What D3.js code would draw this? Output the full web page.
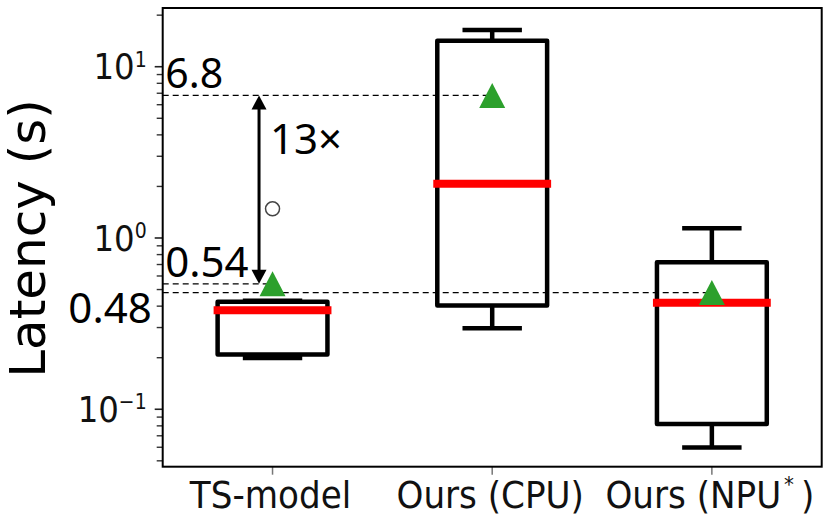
<!DOCTYPE html>
<html>
<head>
<meta charset="utf-8">
<script src="https://cdn.jsdelivr.net/npm/d3@7"></script>
<style>
  body { margin: 0; background: #fff; }
</style>
</head>
<body>
<div id="chartContainer"></div>
<script>
// box stats (seconds)
const categories = ["TS-model", "Ours (CPU)", "Ours (NPU*)"];
const whiskerLow = [0.199, 0.297, 0.0599];
const q1 = [0.209, 0.404, 0.0821];
const median = [0.379, 2.07, 0.419];
const q3 = [0.425, 14.2, 0.722];
const whiskerHigh = [0.43, 16.4, 1.14];
const means = [0.54, 6.8, 0.48];
const outliers = [[1.48], [], []];
const yTickValues = [0.1, 1, 10];
const yTickExponents = ["\u22121", "0", "1"];

// annotation values
const refValues = [6.8, 0.54, 0.48];
const refLabels = ["6.8", "0.54", "0.48"];
const refEndCategory = [1, 0, 2];
const speedupLabel = "13\u00d7";

const W = 831, H = 517;
const margin = { top: 8, right: 9.3, bottom: 50.3, left: 162.7 };
const plotW = W - margin.left - margin.right;
const plotH = H - margin.top - margin.bottom;

const svg = d3.select("#chartContainer").append("svg")
  .attr("width", W)
  .attr("height", H);

const g = svg.append("g")
  .attr("transform", `translate(${margin.left}, ${margin.top})`);

// scales
const x = d3.scaleBand().domain(categories).range([0, plotW]);
const cx = c => x(c) + x.bandwidth() / 2;
const boxW = x.bandwidth() * 0.5;
const capW = x.bandwidth() * 0.25;

const y = d3.scaleLog().domain([0.0462, 22.02]).range([plotH, 0]);

const squish = 0.9; // matplotlib text in the picture is narrowed

// y axis ticks (major + minor)
const minorTicks = [];
[0.01, 0.1, 1, 10].forEach(dec => {
  for (let k = 2; k <= 9; k++) {
    const v = dec * k;
    if (v > y.domain()[0] && v < y.domain()[1]) minorTicks.push(v);
  }
});

g.selectAll(".minor").data(minorTicks).enter().append("line")
  .attr("x1", -6).attr("x2", 0)
  .attr("y1", d => y(d)).attr("y2", d => y(d))
  .attr("stroke", "#333").attr("stroke-width", 1.4);

g.selectAll(".major").data(yTickValues).enter().append("line")
  .attr("x1", -8).attr("x2", 0)
  .attr("y1", d => y(d)).attr("y2", d => y(d))
  .attr("stroke", "#222").attr("stroke-width", 1.6);

const tickLab = g.selectAll(".ylab").data(yTickValues).enter().append("text")
  .attr("transform", d => `translate(-16, ${y(d) + 12.6}) scale(${squish},1)`)
  .attr("text-anchor", "end")
  .style("font-family", "DejaVu Sans")
  .style("font-size", "36px")
  .attr("fill", "#111");
tickLab.append("tspan").text("10");
tickLab.append("tspan")
  .attr("dy", -12.6)
  .style("font-size", "21px")
  .text((d, i) => yTickExponents[i]);

// x ticks
g.selectAll(".xtick").data(categories).enter().append("line")
  .attr("x1", d => cx(d)).attr("x2", d => cx(d))
  .attr("y1", plotH).attr("y2", plotH + 8)
  .attr("stroke", "#777").attr("stroke-width", 1.5);

const xLab = g.selectAll(".xlab").data(categories).enter().append("text")
  .attr("transform", d => `translate(${cx(d) - 2}, ${plotH + 41.6}) scale(${squish},1)`)
  .attr("text-anchor", "middle")
  .style("font-family", "DejaVu Sans")
  .style("font-size", "38px")
  .attr("fill", "#111");
xLab.each(function(d) {
  const t = d3.select(this);
  if (d.endsWith("*)")) {
    t.append("tspan").text(d.slice(0, -2));
    t.append("tspan").attr("dy", -16).attr("dx", 3).style("font-size", "22px").text("*");
    t.append("tspan").attr("dy", 16).attr("dx", 8).text(")");
  } else {
    t.text(d);
  }
});

// y label
svg.append("text")
  .attr("transform", `translate(45, 238.5) rotate(-90)`)
  .attr("text-anchor", "middle")
  .style("font-family", "DejaVu Sans")
  .style("font-size", "50px")
  .attr("fill", "#000")
  .text("Latency (s)");

// boxes
const idx = d3.range(categories.length);

g.selectAll(".whisk").data(idx).enter().append("path")
  .attr("d", i => `M${cx(categories[i])},${y(q1[i])}V${y(whiskerLow[i])}M${cx(categories[i])},${y(q3[i])}V${y(whiskerHigh[i])}`)
  .attr("stroke", "#000").attr("stroke-width", 4.5).attr("fill", "none");

g.selectAll(".cap").data(idx).enter().append("path")
  .attr("d", i => {
    const c = cx(categories[i]);
    return `M${c - capW / 2},${y(whiskerLow[i])}H${c + capW / 2}M${c - capW / 2},${y(whiskerHigh[i])}H${c + capW / 2}`;
  })
  .attr("stroke", "#000").attr("stroke-width", 4.5).attr("stroke-linecap", "square").attr("fill", "none");

g.selectAll(".box").data(idx).enter().append("rect")
  .attr("x", i => cx(categories[i]) - boxW / 2)
  .attr("y", i => y(q3[i]))
  .attr("width", boxW)
  .attr("height", i => y(q1[i]) - y(q3[i]))
  .attr("fill", "none")
  .attr("stroke", "#000").attr("stroke-width", 4.5).attr("stroke-linejoin", "round");

g.selectAll(".median").data(idx).enter().append("line")
  .attr("x1", i => cx(categories[i]) - boxW / 2)
  .attr("x2", i => cx(categories[i]) + boxW / 2)
  .attr("y1", i => y(median[i])).attr("y2", i => y(median[i]))
  .attr("stroke", "#ff0000").attr("stroke-width", 8).attr("stroke-linecap", "square");

// outliers
idx.forEach(i => {
  g.selectAll(null).data(outliers[i]).enter().append("circle")
    .attr("cx", cx(categories[i]))
    .attr("cy", d => y(d))
    .attr("r", 7)
    .attr("fill", "none")
    .attr("stroke", "#444").attr("stroke-width", 1.5);
});

// reference dashed lines
g.selectAll(".ref").data(refValues).enter().append("line")
  .attr("x1", 0)
  .attr("x2", (d, i) => cx(categories[refEndCategory[i]]))
  .attr("y1", d => y(d)).attr("y2", d => y(d))
  .attr("stroke", "#000").attr("stroke-width", 1.3).attr("stroke-dasharray", "6,4");

// means
const tri = "M0,-12.5L13,12.5L-13,12.5Z";
g.selectAll(".mean").data(idx).enter().append("path")
  .attr("d", tri)
  .attr("transform", i => `translate(${cx(categories[i])}, ${y(means[i])})`)
  .attr("fill", "#2ca02c");

// double arrow between 6.8 and 0.54
const ax = cx(categories[0]) - 13.5;
const yTop = y(refValues[0]), yBot = y(refValues[1]);
g.append("line")
  .attr("x1", ax).attr("x2", ax)
  .attr("y1", yTop + 10).attr("y2", yBot - 10)
  .attr("stroke", "#000").attr("stroke-width", 3);
g.append("path")
  .attr("d", `M${ax},${yTop}L${ax + 7.5},${yTop + 14}L${ax - 7.5},${yTop + 14}Z`)
  .attr("fill", "#000");
g.append("path")
  .attr("d", `M${ax},${yBot}L${ax + 7.5},${yBot - 14}L${ax - 7.5},${yBot - 14}Z`)
  .attr("fill", "#000");

// annotation texts
const annoFont = "'Noto Sans', 'Open Sans', sans-serif";
g.append("text").attr("x", 2.5).attr("y", y(refValues[0]) - 7)
  .style("font-family", annoFont).style("font-size", "41px").attr("fill", "#000")
  .text(refLabels[0]);
g.append("text").attr("x", 2.5).attr("y", y(refValues[1]) - 7.3)
  .style("font-family", annoFont).style("font-size", "42px").attr("fill", "#000")
  .text(refLabels[1]);
g.append("text").attr("x", -11).attr("y", y(refValues[2]) + 30.6)
  .attr("text-anchor", "end")
  .style("font-family", annoFont).style("font-size", "42px").attr("fill", "#000")
  .text(refLabels[2]);
g.append("text").attr("x", ax + 11).attr("y", yTop + 59)
  .style("font-family", annoFont).style("font-size", "42px").attr("fill", "#000")
  .text(speedupLabel);

// frame
g.append("rect")
  .attr("x", 0).attr("y", 0)
  .attr("width", plotW).attr("height", plotH)
  .attr("fill", "none")
  .attr("stroke", "#000").attr("stroke-width", 2);
</script>
</body>
</html>
